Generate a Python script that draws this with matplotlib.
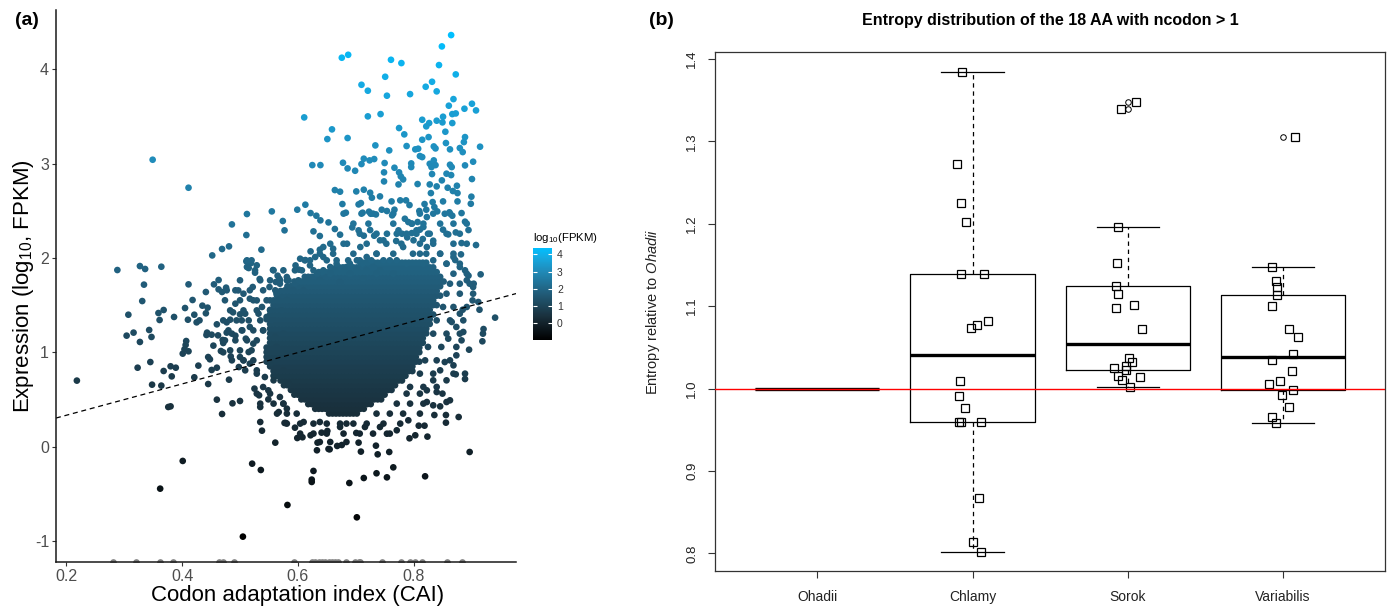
import numpy as np
import matplotlib
matplotlib.use('Agg')
import matplotlib.pyplot as plt
from matplotlib.colors import LinearSegmentedColormap, Normalize

plt.rcParams['font.family'] = ['Liberation Sans', 'DejaVu Sans']
plt.rcParams['mathtext.fontset'] = 'custom'
plt.rcParams['mathtext.rm'] = 'Liberation Sans'
plt.rcParams['mathtext.it'] = 'Liberation Sans:italic'
plt.rcParams['mathtext.default'] = 'regular'

# ---------------- panel (a): CAI vs expression ----------------
# scattered genes (CAI, log10 FPKM)
high_pts = [
    (0.865, 4.364), (0.849, 4.244), (0.676, 4.124), (0.687, 4.155), (0.761, 4.102), (0.779, 4.067),
    (0.844, 4.046), (0.873, 3.947), (0.751, 3.922), (0.710, 3.837), (0.721, 3.774), (0.754, 3.721),
    (0.794, 3.738), (0.821, 3.816), (0.832, 3.869), (0.840, 3.767), (0.869, 3.685), (0.861, 3.615),
    (0.901, 3.636), (0.908, 3.565), (0.888, 3.583), (0.873, 3.533), (0.867, 3.526), (0.851, 3.498),
    (0.611, 3.491), (0.721, 3.502), (0.743, 3.526), (0.815, 3.466), (0.827, 3.431), (0.840, 3.456),
    (0.822, 3.396), (0.850, 3.438), (0.867, 3.431), (0.659, 3.364), (0.651, 3.261), (0.686, 3.272),
    (0.775, 3.378), (0.784, 3.311), (0.855, 3.339), (0.889, 3.282), (0.815, 3.254), (0.826, 3.282),
    (0.835, 3.183), (0.856, 3.219), (0.880, 3.166), (0.887, 3.229), (0.915, 3.180), (0.734, 3.194),
    (0.758, 3.141), (0.788, 3.187), (0.803, 3.152), (0.808, 3.159), (0.838, 3.162), (0.863, 3.152),
    (0.885, 3.123), (0.714, 3.053), (0.724, 3.035), (0.732, 3.049), (0.811, 3.081), (0.815, 3.070),
    (0.625, 2.985), (0.639, 2.985), (0.678, 3.010), (0.686, 2.950), (0.699, 2.925), (0.710, 2.996),
    (0.750, 3.007), (0.767, 2.957), (0.796, 3.003), (0.796, 2.964), (0.828, 2.999), (0.831, 2.964),
    (0.835, 3.035), (0.838, 2.985), (0.863, 2.989), (0.866, 2.964), (0.889, 2.982), (0.903, 3.021),
    (0.857, 2.894), (0.865, 2.879), (0.775, 2.908), (0.778, 2.865), (0.782, 2.833), (0.749, 2.908),
    (0.749, 2.812), (0.832, 2.890), (0.849, 2.823), (0.901, 2.837), (0.807, 2.784), (0.828, 2.780),
    (0.840, 2.759), (0.859, 2.745), (0.875, 2.766), (0.774, 2.780), (0.664, 2.720), (0.673, 2.703),
    (0.701, 2.706), (0.714, 2.724), (0.725, 2.692), (0.742, 2.653), (0.728, 2.639), (0.613, 2.565),
    (0.599, 2.512), (0.622, 2.476), (0.632, 2.448), (0.639, 2.399), (0.653, 2.377), (0.677, 2.572),
    (0.683, 2.480), (0.705, 2.568), (0.709, 2.582), (0.712, 2.480), (0.723, 2.491), (0.726, 2.469),
    (0.735, 2.462), (0.745, 2.512), (0.754, 2.498), (0.762, 2.600), (0.763, 2.452), (0.767, 2.512),
    (0.777, 2.611), (0.787, 2.611), (0.793, 2.561), (0.785, 2.416), (0.791, 2.381), (0.807, 2.381),
    (0.810, 2.498), (0.819, 2.572), (0.822, 2.512), (0.823, 2.434), (0.830, 2.688), (0.833, 2.593),
    (0.836, 2.540), (0.841, 2.494), (0.851, 2.600), (0.854, 2.469), (0.862, 2.484), (0.867, 2.448),
    (0.876, 2.688), (0.876, 2.600), (0.883, 2.476), (0.889, 2.385), (0.899, 2.575), (0.900, 2.650),
    (0.868, 2.710), (0.577, 2.293), (0.574, 2.392), (0.627, 2.282), (0.638, 2.233), (0.664, 2.307),
    (0.673, 2.247), (0.694, 2.324), (0.705, 2.293), (0.714, 2.236), (0.725, 2.296), (0.732, 2.236),
    (0.748, 2.187), (0.770, 2.180), (0.780, 2.257), (0.789, 2.218), (0.797, 2.264), (0.811, 2.300),
    (0.816, 2.201), (0.825, 2.257), (0.834, 2.183), (0.851, 2.300), (0.860, 2.250), (0.873, 2.271),
    (0.883, 2.158), (0.895, 2.296), (0.908, 2.137), (0.622, 2.070), (0.638, 2.088), (0.613, 1.978),
    (0.596, 1.921), (0.602, 1.876), (0.916, 1.826), (0.895, 1.812), (0.904, 1.727), (0.889, 1.869),
    (0.882, 2.038), (0.872, 1.978), (0.604, 1.992), (0.621, 1.921), (0.644, 2.010), (0.656, 1.904),
    (0.667, 1.939), (0.684, 1.904), (0.702, 1.975), (0.719, 2.010), (0.736, 2.045), (0.581, 1.798),
    (0.595, 1.727), (0.615, 1.763), (0.633, 1.833), (0.650, 1.798), (0.673, 1.745), (0.690, 1.833),
    (0.713, 1.780), (0.730, 1.904), (0.759, 1.975), (0.771, 2.257), (0.782, 2.116), (0.800, 2.187),
    (0.811, 2.045), (0.823, 2.116), (0.834, 1.975), (0.846, 2.045), (0.857, 1.939), (0.869, 2.010),
    (0.880, 1.904), (0.892, 1.763), (0.903, 1.692), (0.805, 2.293), (0.817, 2.328), (0.797, 2.364),
    (0.774, 2.293), (0.754, 2.257), (0.742, 2.187), (0.708, 2.116), (0.685, 2.151), (0.661, 2.098),
    (0.644, 2.116), (0.630, 2.010),
]
upper_left_pts = [
    (0.349, 3.042), (0.411, 2.745), (0.512, 2.466), (0.555, 2.494), (0.486, 2.356), (0.511, 2.243),
    (0.481, 2.123), (0.469, 2.095), (0.452, 2.027), (0.537, 2.088), (0.288, 1.872), (0.327, 1.914),
    (0.336, 1.883), (0.364, 1.907), (0.511, 1.964), (0.519, 1.946), (0.512, 1.904), (0.515, 1.893),
    (0.529, 1.922), (0.557, 1.872), (0.526, 1.844), (0.565, 1.812), (0.534, 1.777), (0.568, 1.780),
    (0.463, 1.766), (0.562, 1.745), (0.581, 1.763),
]
lower_left_pts = [
    (0.218, 0.699), (0.334, 1.717), (0.331, 1.543), (0.307, 1.398), (0.304, 1.176), (0.316, 1.208),
    (0.327, 1.109), (0.323, 0.836), (0.343, 1.236), (0.347, 1.162), (0.345, 0.896), (0.348, 0.656),
    (0.359, 1.416), (0.361, 1.342), (0.368, 1.448), (0.386, 1.374), (0.368, 0.801), (0.364, 0.646),
    (0.380, 0.851), (0.389, 0.836), (0.382, 0.744), (0.376, 0.419), (0.380, 0.426), (0.362, -0.447),
    (0.401, -0.153), (0.505, -0.956), (0.405, 1.469), (0.411, 1.720), (0.418, 1.554), (0.410, 1.345),
    (0.421, 1.398), (0.425, 1.317), (0.430, 1.338), (0.435, 1.494), (0.444, 1.473), (0.441, 1.413),
    (0.441, 1.639), (0.455, 1.720), (0.463, 1.667), (0.469, 1.639), (0.476, 1.685), (0.407, 1.119),
    (0.406, 1.077), (0.404, 1.031), (0.411, 1.010), (0.401, 0.985), (0.443, 1.208), (0.442, 1.183),
    (0.445, 0.949), (0.448, 0.925), (0.428, 0.858), (0.421, 0.734), (0.445, 0.663), (0.451, 0.812),
    (0.460, 0.836), (0.454, 1.070), (0.462, 1.179), (0.451, 1.186), (0.460, 1.296), (0.470, 1.130),
    (0.467, 1.013), (0.471, 0.999), (0.460, 0.497), (0.469, 0.345), (0.481, 0.709), (0.484, 0.956),
    (0.487, 0.458), (0.500, 0.483), (0.477, 1.208), (0.477, 1.317), (0.483, 1.345), (0.488, 1.423),
    (0.486, 1.197), (0.492, 1.176), (0.471, 1.098), (0.492, 1.515), (0.497, 1.656), (0.506, 1.621),
    (0.503, 1.338), (0.504, 1.232), (0.500, 1.402), (0.509, 1.409), (0.517, 1.568), (0.522, 1.692),
    (0.529, 1.550), (0.521, -0.182), (0.536, -0.249), (0.561, 0.041), (0.535, 0.260), (0.538, 0.168),
    (0.577, 0.250), (0.567, 0.366), (0.582, -0.620), (0.535, 0.419), (0.549, 0.500), (0.525, 0.614),
    (0.533, 0.543), (0.540, 0.631), (0.549, 0.596), (0.500, 0.949), (0.498, 0.843), (0.506, 0.914),
    (0.515, 1.002), (0.517, 0.879), (0.523, 1.091), (0.510, 1.144), (0.517, 1.268), (0.532, 1.409),
    (0.540, 1.232), (0.546, 1.374), (0.538, 1.480), (0.552, 1.550), (0.563, 1.621), (0.551, 1.692),
    (0.569, 1.727), (0.529, 0.773), (0.543, 0.737), (0.558, 0.702), (0.569, 0.525), (0.581, 0.402),
    (0.575, 0.455), (0.552, 0.879), (0.563, 1.056), (0.575, 1.197), (0.561, 1.162), (0.575, 0.808),
    (0.584, 0.667),
]
lower_right_pts = [
    (0.941, 1.367), (0.921, 1.246), (0.919, 1.116), (0.912, 1.533), (0.902, 1.550), (0.896, 1.027),
    (0.889, 0.716), (0.878, 0.313), (0.897, -0.058), (0.856, 0.334), (0.856, 0.253), (0.836, 0.334),
    (0.824, 0.105), (0.820, -0.316), (0.809, 0.221), (0.819, 0.221), (0.793, 0.087), (0.765, -0.221),
    (0.754, -0.327), (0.736, -0.284), (0.714, -0.334), (0.702, -0.751), (0.689, -0.387), (0.627, -0.259),
    (0.624, -0.351), (0.624, -0.376), (0.758, -0.058), (0.738, -0.083), (0.735, 0.009), (0.709, -0.054),
    (0.705, 0.041), (0.676, 0.016), (0.668, 0.006), (0.653, -0.026), (0.655, -0.030), (0.633, -0.040),
    (0.634, 0.041), (0.599, 0.090), (0.608, 0.098), (0.622, 0.119), (0.641, 0.147), (0.651, 0.165),
    (0.673, 0.207), (0.701, 0.144), (0.579, 0.250), (0.595, 0.200), (0.610, 0.260), (0.638, 0.260),
    (0.684, 0.243), (0.716, 0.207), (0.742, 0.207), (0.754, 0.136), (0.771, 0.172), (0.791, 0.278),
    (0.803, 0.119), (0.823, 0.472), (0.834, 0.437), (0.846, 0.426), (0.857, 0.472), (0.863, 0.490),
    (0.840, 0.578), (0.850, 0.561), (0.869, 0.861), (0.873, 0.766), (0.874, 0.967), (0.883, 1.126),
    (0.886, 1.215), (0.874, 1.268), (0.866, 1.321), (0.880, 1.409), (0.885, 1.451), (0.914, 1.451),
    (0.860, 1.144), (0.846, 0.808), (0.854, 0.896), (0.834, 0.702), (0.823, 0.596), (0.857, 0.702),
]
# fringe of the cloud: per expression level, the CAI of the loose points around the dense core
fringe_levels = [2.470, 2.364, 2.257, 2.151, 2.045, 1.975, 1.939, 1.869, 1.833, 1.763, 1.727, 1.657,
                 1.621, 1.551, 1.480, 1.444, 1.338, 1.232, 1.197, 1.126, 1.056, 1.020, 0.914, 0.808,
                 0.773, 0.632, 0.561, 0.455, 0.349, 0.243, 0.137, 0.048]
fringe_cai = [
    [0.679, 0.710, 0.730, 0.765, 0.811, 0.834, 0.863],
    [0.696, 0.722, 0.765, 0.797, 0.817, 0.846, 0.869, 0.892],
    [0.707, 0.736, 0.788, 0.805, 0.828, 0.857, 0.880],
    [0.656, 0.679, 0.719, 0.753, 0.779, 0.811, 0.834, 0.869, 0.892],
    [0.638, 0.661, 0.696, 0.736, 0.765, 0.799, 0.822, 0.846, 0.869],
    [0.512, 0.520, 0.612, 0.621, 0.650, 0.667, 0.687, 0.707, 0.727, 0.748, 0.771],
    [0.690, 0.712, 0.788, 0.817, 0.857, 0.880],
    [0.526, 0.558, 0.575, 0.595, 0.607, 0.627, 0.644, 0.664, 0.681, 0.702, 0.719, 0.742],
    [0.656, 0.736, 0.765, 0.869, 0.892],
    [0.500, 0.535, 0.552, 0.569, 0.584, 0.601, 0.618, 0.638],
    [0.863, 0.880, 0.897],
    [0.477, 0.492, 0.517, 0.540, 0.561, 0.578, 0.592, 0.610],
    [0.857, 0.880, 0.903],
    [0.474, 0.500, 0.523, 0.546, 0.566, 0.581],
    [0.851, 0.869, 0.892],
    [0.483, 0.506, 0.529, 0.552, 0.572],
    [0.471, 0.494, 0.515, 0.535, 0.555, 0.840, 0.863, 0.886],
    [0.480, 0.503, 0.523, 0.540],
    [0.834, 0.857, 0.880, 0.920],
    [0.474, 0.492, 0.512, 0.529],
    [0.825, 0.848, 0.874],
    [0.483, 0.500, 0.520],
    [0.486, 0.506, 0.523, 0.820, 0.840, 0.863],
    [0.509, 0.529],
    [0.811, 0.834, 0.869, 0.889],
    [0.794, 0.817, 0.840],
    [0.529, 0.552, 0.788, 0.811],
    [0.535, 0.558, 0.575, 0.771, 0.794, 0.817],
    [0.564, 0.581, 0.598, 0.736, 0.759, 0.782, 0.811],
    [0.581, 0.604, 0.627, 0.650, 0.673, 0.696, 0.719, 0.748, 0.777],
    [0.604, 0.627, 0.650, 0.679, 0.707, 0.730, 0.759],
    [0.638, 0.656, 0.684],
]
# dense cloud: CAI bins and, per expression level, the CAI extent where points are solid
core_cai_bins = [
    0.540, 0.546, 0.552, 0.558, 0.564, 0.570, 0.576, 0.582, 0.588, 0.594, 0.600, 0.606, 0.612, 0.618,
    0.624, 0.630, 0.636, 0.642, 0.648, 0.654, 0.660, 0.666, 0.672, 0.678, 0.684, 0.690, 0.696, 0.702,
    0.708, 0.714, 0.720, 0.726, 0.732, 0.738, 0.744, 0.750, 0.756, 0.762, 0.768, 0.774, 0.780, 0.786,
    0.792, 0.798, 0.804, 0.810, 0.816, 0.822, 0.828, 0.834, 0.840, 0.846, 0.852, 0.858,
]
core_levels = [0.35, 0.40, 0.45, 0.50, 0.55, 0.60, 0.65, 0.70, 0.75, 0.80, 0.85, 0.90, 0.95, 1.00,
               1.05, 1.10, 1.15, 1.20, 1.25, 1.30, 1.35, 1.40, 1.45, 1.50, 1.55, 1.60, 1.65, 1.70,
               1.75, 1.80, 1.85, 1.90, 1.95]
core_lo = [0.650, 0.630, 0.615, 0.604, 0.592, 0.583, 0.572, 0.565, 0.557, 0.553, 0.547, 0.543, 0.545,
           0.542, 0.546, 0.549, 0.548, 0.552, 0.548, 0.550, 0.546, 0.551, 0.549, 0.555, 0.557, 0.561,
           0.566, 0.579, 0.592, 0.612, 0.633, 0.662, 0.705]
core_hi = [0.702, 0.719, 0.730, 0.748, 0.755, 0.765, 0.772, 0.782, 0.789, 0.799, 0.803, 0.811, 0.808,
           0.813, 0.812, 0.818, 0.817, 0.823, 0.822, 0.829, 0.828, 0.834, 0.833, 0.840, 0.839, 0.846,
           0.845, 0.851, 0.852, 0.850, 0.843, 0.834, 0.822]
# genes with FPKM = 0 (log10 = -Inf), drawn grey at the bottom edge
na_cai = [0.280, 0.321, 0.362, 0.384, 0.463, 0.471, 0.490, 0.593, 0.624, 0.630, 0.636, 0.641, 0.647,
          0.653, 0.659, 0.664, 0.670, 0.684, 0.699, 0.705, 0.708, 0.745, 0.778, 0.794, 0.802, 0.814,
          0.857, 0.883]
fit_slope = 1.66
fit_intercept = 0.0

# ---------------- panel (b): entropy relative to Ohadii ----------------
groups = ['Ohadii', 'Chlamy', 'Sorok', 'Variabilis']
ohadii_entropy = [1.0, 1.0, 1.0, 1.0, 1.0, 1.0, 1.0, 1.0, 1.0, 1.0, 1.0, 1.0, 1.0, 1.0, 1.0, 1.0, 1.0, 1.0]
chlamy_entropy = [1.3846, 1.2729, 1.2251, 1.2024, 1.1389, 1.1389, 1.0729, 1.0769, 1.0822,
                  1.0089, 0.9907, 0.9761, 0.9591, 0.9591, 0.9591, 0.8668, 0.8142, 0.8024]
sorok_entropy = [1.3389, 1.3478, 1.1963, 1.1519, 1.1243, 1.1146, 1.0972, 1.1012, 1.0721,
                 1.0372, 1.0319, 1.0275, 1.0223, 1.0247, 1.0158, 1.0142, 1.0101, 1.0025]
variabilis_entropy = [1.3057, 1.1478, 1.1307, 1.1234, 1.1137, 1.1000, 1.0717, 1.0628, 1.0425,
                      1.0344, 1.0219, 1.0089, 1.0053, 0.9988, 0.9919, 0.9773, 0.9652, 0.9583]
chlamy_jitter = [-0.066, -0.099, -0.077, -0.043, -0.073, 0.077, -0.008, 0.028, 0.101,
                 -0.079, -0.086, -0.047, -0.090, -0.073, 0.052, 0.045, 0.002, 0.056]
sorok_jitter = [-0.041, 0.052, -0.063, -0.069, -0.077, -0.063, -0.073, 0.041, 0.092,
                0.008, 0.026, -0.013, -0.008, -0.090, -0.063, 0.082, -0.034, 0.015]
variabilis_jitter = [0.079, -0.071, -0.043, -0.035, -0.039, -0.071, 0.041, 0.101, 0.065,
                     -0.067, 0.058, -0.017, -0.086, 0.065, -0.006, 0.039, -0.071, -0.043]


def fivenum(v):
    # Tukey hinges, like R's boxplot.stats
    v = np.sort(np.asarray(v, dtype=float))
    n = len(v)
    n4 = np.floor((n + 3) / 2) / 2
    d = np.array([1, n4, (n + 1) / 2, n + 1 - n4, n])
    return 0.5 * (v[np.floor(d).astype(int) - 1] + v[np.ceil(d).astype(int) - 1])


def box_stats(v):
    v = np.asarray(v, dtype=float)
    lo, q1, med, q3, hi = fivenum(v)
    iqr = q3 - q1
    inside = v[(v >= q1 - 1.5 * iqr) & (v <= q3 + 1.5 * iqr)]
    return dict(med=med, q1=q1, q3=q3, whislo=inside.min(), whishi=inside.max(),
                fliers=v[(v < q1 - 1.5 * iqr) | (v > q3 + 1.5 * iqr)])


fig = plt.figure(figsize=(13.92, 6.07), dpi=100)

# ---- (a) scatter ----
scattered = high_pts + upper_left_pts + lower_left_pts + lower_right_pts
sc_x = [p[0] for p in scattered]
sc_y = [p[1] for p in scattered]
for lvl, cais in zip(fringe_levels, fringe_cai):
    sc_x += cais
    sc_y += [lvl] * len(cais)
core_x, core_y = [], []
for lvl, lo, hi in zip(core_levels, core_lo, core_hi):
    for c in core_cai_bins:
        if lo <= c <= hi:
            core_x.append(c)
            core_y.append(lvl)
all_x = np.array(core_x + sc_x)
all_y = np.array(core_y + sc_y)

cmap = LinearSegmentedColormap.from_list('fpkm', [
    (0.0, '#000000'), (0.25, '#192F3B'), (0.5, '#215B77'),
    (0.75, '#208BB9'), (0.9, '#15AAE2'), (1.0, '#00BFFF')])
norm = Normalize(vmin=all_y.min(), vmax=all_y.max())

ax1 = fig.add_axes([0.0402, 0.0746, 0.3305, 0.9089])
xmin, xmax = min(all_x.min(), min(na_cai)), max(all_x.max(), max(na_cai))
ymin, ymax = all_y.min(), all_y.max()
ax1.set_xlim(xmin - 0.05 * (xmax - xmin), xmax + 0.05 * (xmax - xmin))
ax1.set_ylim(ymin - 0.05 * (ymax - ymin), ymax + 0.05 * (ymax - ymin))

sc = ax1.scatter(all_x, all_y, c=all_y, cmap=cmap, norm=norm, s=23, linewidths=0)
ax1.scatter(na_cai, [ax1.get_ylim()[0]] * len(na_cai), color='#7F7F7F', s=23, linewidths=0)
ax1.axline((0, fit_intercept), slope=fit_slope, color='black', lw=0.9, ls=(0, (4, 3)))

for side in ['top', 'right']:
    ax1.spines[side].set_visible(False)
for side in ['left', 'bottom']:
    ax1.spines[side].set_color('#1A1A1A')
    ax1.spines[side].set_linewidth(1.1)
ax1.set_xticks([0.2, 0.4, 0.6, 0.8])
ax1.set_xticklabels(['0.2', '0.4', '0.6', '0.8'])
ax1.set_yticks([-1, 0, 1, 2, 3, 4])
ax1.set_yticklabels(['-1', '0', '1', '2', '3', '4'])
ax1.tick_params(axis='both', direction='out', length=3, width=0.8, color='#333333',
                labelcolor='#4D4D4D', labelsize=11.5, pad=2)
ax1.set_xlabel('Codon adaptation index (CAI)', fontsize=16, labelpad=1)
ax1.xaxis.label.set_x(0.526)
ax1.set_ylabel('Expression (log$_{10}$, FPKM)', fontsize=16, labelpad=-1)

cax = fig.add_axes([0.3829, 0.4399, 0.0133, 0.1516])
cb = fig.colorbar(sc, cax=cax)
cb.outline.set_visible(False)
cb.set_ticks([0, 1, 2, 3, 4])
cax.yaxis.set_ticks_position('both')
cax.tick_params(axis='y', direction='in', length=3, width=0.8, color='white',
                labelsize=7.5, labelcolor='#333333', pad=4, labelleft=False, labelright=True)
cax.set_title('log$_{10}$(FPKM)', loc='left', fontsize=8.2, pad=5)

# ---- (b) boxplot ----
values = [ohadii_entropy, chlamy_entropy, sorok_entropy, variabilis_entropy]
jitters = [None, chlamy_jitter, sorok_jitter, variabilis_jitter]
positions = np.arange(1, len(groups) + 1)

ax2 = fig.add_axes([0.5137, 0.0598, 0.4813, 0.8540])
ax2.bxp([box_stats(v) for v in values], positions=positions, widths=0.8, capwidths=0.4,
        boxprops=dict(color='black', linewidth=0.9),
        whiskerprops=dict(color='black', linewidth=0.9, linestyle=(0, (3.5, 3))),
        capprops=dict(color='black', linewidth=0.9),
        medianprops=dict(color='black', linewidth=2.4),
        flierprops=dict(marker='o', markerfacecolor='none', markeredgecolor='black',
                        markersize=4, markeredgewidth=0.7),
        manage_ticks=False)
for pos, v, jit in zip(positions, values, jitters):
    if jit is None:
        continue
    ax2.plot(pos + np.array(jit), v, 's', mfc='none', mec='black', ms=5.6, mew=0.9)
ax2.axhline(1.0, color='red', lw=1.0, zorder=5)

lo_x, hi_x = 0.5, len(groups) + 0.5
ax2.set_xlim(lo_x - 0.04 * (hi_x - lo_x), hi_x + 0.04 * (hi_x - lo_x))
vals_all = np.concatenate([np.array(v) for v in values])
ax2.set_ylim(vals_all.min() - 0.04 * np.ptp(vals_all), vals_all.max() + 0.04 * np.ptp(vals_all))
ax2.set_xticks(positions)
ax2.set_xticklabels(groups)
ax2.set_yticks([0.8, 0.9, 1.0, 1.1, 1.2, 1.3, 1.4])
ax2.set_yticklabels(['0.8', '0.9', '1.0', '1.1', '1.2', '1.3', '1.4'])
ax2.tick_params(axis='x', direction='out', length=5, width=0.8, labelsize=10, pad=9, color='#333333',
                labelcolor='#222222')
ax2.tick_params(axis='y', direction='out', length=5, width=0.8, labelsize=9.5, pad=7,
                labelrotation=90, color='#333333', labelcolor='#222222')
for lbl in ax2.get_yticklabels():
    lbl.set_va('center')
for side in ax2.spines:
    ax2.spines[side].set_linewidth(0.9)
    ax2.spines[side].set_color('#333333')
ax2.set_ylabel('Entropy relative to $\\mathit{Ohadii}$', fontsize=10.5, color='#222222')
ax2.yaxis.set_label_coords(-0.079, 0.5)
ax2.set_title('Entropy distribution of the 18 AA with ncodon > 1', fontsize=11.5,
              fontweight='bold', pad=20)

fig.text(0.0105, 0.966, '(a)', fontsize=14, fontweight='bold', va='center')
fig.text(0.466, 0.966, '(b)', fontsize=14, fontweight='bold', va='center')

fig.savefig('out.png', dpi=100)
